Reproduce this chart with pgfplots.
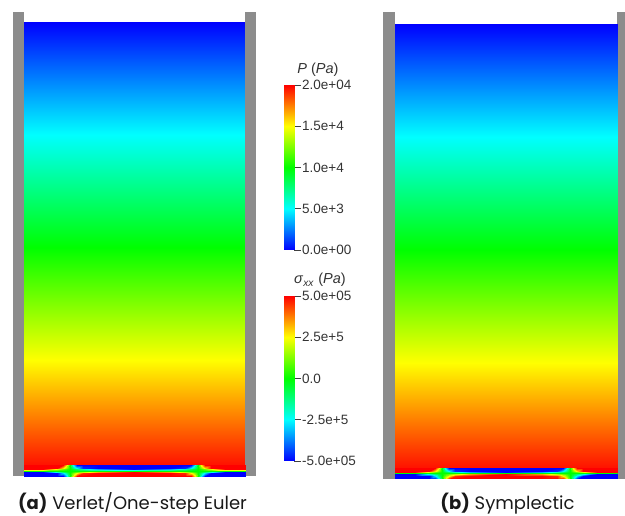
\documentclass[border=0pt]{standalone}
\usepackage{fontspec}
\setmainfont{Liberation Sans}
\newfontfamily\capfont{Poppins}
\usepackage{pgfplots}
\usepackage{pgfplotstable}
\pgfplotsset{compat=1.18}
\definecolor{wallgray}{RGB}{140,140,140}
\pgfplotsset{colormap={pvrainbow}{rgb255(0cm)=(0,0,255) rgb255(1cm)=(0,255,255) rgb255(2cm)=(0,255,0) rgb255(3cm)=(255,255,0) rgb255(4cm)=(255,0,0)}}

% sigma_xx in the bottom plate: u = distance from the left end (px), eta = -1 (top face) .. 1 (bottom face)
\pgfplotstableread[row sep=\\]{
u eta s\\
0 -1 5e5\\ 20 -1 5e5\\ 34 -1 5e5\\ 40 -1 5e5\\ 43 -1 3.15e5\\ 45 -1 1.52e5\\ 47 -1 -6.5e3\\ 49 -1 -1.6e5\\ 51 -1 -3.09e5\\ 54 -1 -5e5\\ 60 -1 -5e5\\ 75 -1 -5e5\\ 111 -1 -5e5\\ 147 -1 -5e5\\ 162 -1 -5e5\\ 168 -1 -5e5\\ 171 -1 -3.09e5\\ 173 -1 -1.6e5\\ 175 -1 -6.5e3\\ 177 -1 1.52e5\\ 179 -1 3.15e5\\ 182 -1 5e5\\ 188 -1 5e5\\ 202 -1 5e5\\ 222 -1 5e5\\
0 -0.5 5e5\\ 20 -0.5 5e5\\ 34 -0.5 5e5\\ 40 -0.5 2.84e5\\ 43 -0.5 1.57e5\\ 45 -0.5 7.6e4\\ 47 -0.5 -3.3e3\\ 49 -0.5 -8.0e4\\ 51 -0.5 -1.54e5\\ 54 -0.5 -2.61e5\\ 60 -0.5 -4.59e5\\ 75 -0.5 -5e5\\ 111 -0.5 -5e5\\ 147 -0.5 -5e5\\ 162 -0.5 -4.59e5\\ 168 -0.5 -2.61e5\\ 171 -0.5 -1.54e5\\ 173 -0.5 -8.0e4\\ 175 -0.5 -3.3e3\\ 177 -0.5 7.6e4\\ 179 -0.5 1.57e5\\ 182 -0.5 2.84e5\\ 188 -0.5 5e5\\ 202 -0.5 5e5\\ 222 -0.5 5e5\\
0 -0.2 5e5\\ 20 -0.2 5e5\\ 34 -0.2 2.22e5\\ 40 -0.2 1.14e5\\ 43 -0.2 6.3e4\\ 45 -0.2 3.0e4\\ 47 -0.2 -1.3e3\\ 49 -0.2 -3.2e4\\ 51 -0.2 -6.2e4\\ 54 -0.2 -1.05e5\\ 60 -0.2 -1.83e5\\ 75 -0.2 -3.42e5\\ 111 -0.2 -5e5\\ 147 -0.2 -3.42e5\\ 162 -0.2 -1.83e5\\ 168 -0.2 -1.05e5\\ 171 -0.2 -6.2e4\\ 173 -0.2 -3.2e4\\ 175 -0.2 -1.3e3\\ 177 -0.2 3.0e4\\ 179 -0.2 6.3e4\\ 182 -0.2 1.14e5\\ 188 -0.2 2.22e5\\ 202 -0.2 5e5\\ 222 -0.2 5e5\\
0 0 0\\ 20 0 0\\ 34 0 0\\ 40 0 0\\ 43 0 0\\ 45 0 0\\ 47 0 0\\ 49 0 0\\ 51 0 0\\ 54 0 0\\ 60 0 0\\ 75 0 0\\ 111 0 0\\ 147 0 0\\ 162 0 0\\ 168 0 0\\ 171 0 0\\ 173 0 0\\ 175 0 0\\ 177 0 0\\ 179 0 0\\ 182 0 0\\ 188 0 0\\ 202 0 0\\ 222 0 0\\
0 0.2 -5e5\\ 20 0.2 -5e5\\ 34 0.2 -2.22e5\\ 40 0.2 -1.14e5\\ 43 0.2 -6.3e4\\ 45 0.2 -3.0e4\\ 47 0.2 1.3e3\\ 49 0.2 3.2e4\\ 51 0.2 6.2e4\\ 54 0.2 1.05e5\\ 60 0.2 1.83e5\\ 75 0.2 3.42e5\\ 111 0.2 5e5\\ 147 0.2 3.42e5\\ 162 0.2 1.83e5\\ 168 0.2 1.05e5\\ 171 0.2 6.2e4\\ 173 0.2 3.2e4\\ 175 0.2 1.3e3\\ 177 0.2 -3.0e4\\ 179 0.2 -6.3e4\\ 182 0.2 -1.14e5\\ 188 0.2 -2.22e5\\ 202 0.2 -5e5\\ 222 0.2 -5e5\\
0 0.5 -5e5\\ 20 0.5 -5e5\\ 34 0.5 -5e5\\ 40 0.5 -2.84e5\\ 43 0.5 -1.57e5\\ 45 0.5 -7.6e4\\ 47 0.5 3.3e3\\ 49 0.5 8.0e4\\ 51 0.5 1.54e5\\ 54 0.5 2.61e5\\ 60 0.5 4.59e5\\ 75 0.5 5e5\\ 111 0.5 5e5\\ 147 0.5 5e5\\ 162 0.5 4.59e5\\ 168 0.5 2.61e5\\ 171 0.5 1.54e5\\ 173 0.5 8.0e4\\ 175 0.5 3.3e3\\ 177 0.5 -7.6e4\\ 179 0.5 -1.57e5\\ 182 0.5 -2.84e5\\ 188 0.5 -5e5\\ 202 0.5 -5e5\\ 222 0.5 -5e5\\
0 1 -5e5\\ 20 1 -5e5\\ 34 1 -5e5\\ 40 1 -5e5\\ 43 1 -3.15e5\\ 45 1 -1.52e5\\ 47 1 6.5e3\\ 49 1 1.6e5\\ 51 1 3.09e5\\ 54 1 5e5\\ 60 1 5e5\\ 75 1 5e5\\ 111 1 5e5\\ 147 1 5e5\\ 162 1 5e5\\ 168 1 5e5\\ 171 1 3.09e5\\ 173 1 1.6e5\\ 175 1 6.5e3\\ 177 1 -1.52e5\\ 179 1 -3.15e5\\ 182 1 -5e5\\ 188 1 -5e5\\ 202 1 -5e5\\ 222 1 -5e5\\
}\platetable

% frame: x to the right, y = -(depth from the top of the figure), in pt
\pgfplotsset{
  frame/.style={at={(0pt,0pt)}, anchor=north west, scale only axis,
    width=625pt, height=516pt, xmin=0, xmax=625, ymin=-516, ymax=0,
    hide axis, colormap name=pvrainbow},
  field/.style={surf, shader=interp, point meta=explicit},
  cbar/.style={anchor=north west, scale only axis, width=10pt, height=165pt,
    xmin=0, xmax=1, axis x line=none, axis y line*=right,
    y axis line style={draw=none}, tick align=outside, major tick length=7pt,
    tick style={black!75, line width=0.8pt}, scaled y ticks=false,
    yticklabel style={font=\fontsize{13.5}{14}\selectfont, text=black!80, inner sep=1pt},
    colormap name=pvrainbow},
}

\begin{document}
\begin{tikzpicture}
\path[use as bounding box] (0pt,0pt) rectangle (625pt,-516pt);

% tank walls, hydrostatic pressure, captions, colour bar titles
\begin{axis}[frame, point meta min=0, point meta max=20000]
  \addplot[fill=wallgray, draw=none] coordinates {(13,-12) (23.5,-12) (23.5,-476) (13,-476)} -- cycle;
  \addplot[fill=wallgray, draw=none] coordinates {(245,-12) (256,-12) (256,-476) (245,-476)} -- cycle;
  \addplot[fill=wallgray, draw=none] coordinates {(383,-12) (395,-12) (395,-479) (383,-479)} -- cycle;
  \addplot[fill=wallgray, draw=none] coordinates {(617,-12) (629,-12) (629,-479) (617,-479)} -- cycle;
  \addplot[field, mesh/rows=2, mesh/cols=2] table[row sep=\\, meta=p]
    {x y p\\ 23.5 -466 19700\\ 245 -466 19700\\ 23.5 -22 0\\ 245 -22 0\\};
  \addplot[field, mesh/rows=2, mesh/cols=2] table[row sep=\\, meta=p]
    {x y p\\ 395 -468.5 19700\\ 617 -468.5 19700\\ 395 -24 0\\ 617 -24 0\\};
  \node[anchor=base, font=\capfont\fontsize{18}{21}\selectfont, text=black!90]
    at (axis cs:132.5,-509) {\textbf{(a)} Verlet/One-step Euler};
  \node[anchor=base, font=\capfont\fontsize{18}{21}\selectfont, text=black!90]
    at (axis cs:507.5,-509) {\textbf{(b)} Symplectic};
  \node[anchor=base, font=\fontsize{14.5}{15}\selectfont, text=black!80]
    at (axis cs:318,-74) {\textit{P} (\textit{Pa})};
  \node[anchor=base, font=\fontsize{14.5}{15}\selectfont, text=black!80]
    at (axis cs:320,-284) {\textit{σ}\textsubscript{\textit{xx}} (\textit{Pa})};
\end{axis}

% stress in the bottom plates
\begin{axis}[frame, point meta min=-500000, point meta max=500000]
  \addplot[field, mesh/rows=7, mesh/cols=25]
    table[x expr={23.5+\thisrow{u}*221.5/222}, y expr={-470.5-5.5*\thisrow{eta}}, meta=s] {\platetable};
  \addplot[field, mesh/rows=7, mesh/cols=25]
    table[x expr={395+\thisrow{u}}, y expr={-473.25-5.5*\thisrow{eta}}, meta=s] {\platetable};
\end{axis}

% colour bar for P
\begin{axis}[cbar, at={(284pt,-85pt)}, ymin=0, ymax=20000,
    ytick={0,5000,10000,15000,20000},
    yticklabels={0.0e+00,5.0e+3,1.0e+4,1.5e+4,2.0e+04},
    point meta min=0, point meta max=20000]
  \addplot[field, mesh/rows=2, mesh/cols=2] table[row sep=\\, meta=v]
    {x y v\\ 0 0 0\\ 1 0 0\\ 0 20000 20000\\ 1 20000 20000\\};
\end{axis}

% colour bar for sigma_xx
\begin{axis}[cbar, at={(284pt,-296pt)}, ymin=-500000, ymax=500000,
    ytick={-500000,-250000,0,250000,500000},
    yticklabels={-5.0e+05,-2.5e+5,0.0,2.5e+5,5.0e+05},
    point meta min=-500000, point meta max=500000]
  \addplot[field, mesh/rows=2, mesh/cols=2] table[row sep=\\, meta=v]
    {x y v\\ 0 -500000 -500000\\ 1 -500000 -500000\\ 0 500000 500000\\ 1 500000 500000\\};
\end{axis}
\end{tikzpicture}
\end{document}
